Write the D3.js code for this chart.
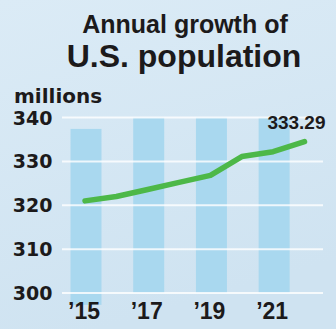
<!DOCTYPE html>
<html>
<head>
<meta charset="utf-8">
<script src="https://cdn.jsdelivr.net/npm/d3@7"></script>
<style>
  html, body { margin: 0; padding: 0; }
  body { width: 336px; height: 329px; overflow: hidden; }
  text { fill: #1c1a1b; }
</style>
</head>
<body>
<svg id="chart" width="336" height="329"></svg>
<script>
// population, millions
const years = [2015, 2016, 2017, 2018, 2019, 2020, 2021, 2022];
const population = [321.0, 322.0, 323.6, 325.2, 326.8, 331.1, 332.2, 334.5];

// the pale columns behind the line
const bandYears = [2015, 2017, 2019, 2021];
const bandTop = [337.4, 340, 340, 340];
const bandBottom = [297.3, 300, 300, 300];

const yTicks = [300, 310, 320, 330, 340];
const xTickYears = [2015, 2017, 2019, 2021];
const xTickLabels = ['’15', '’17', '’19', '’21'];
const endLabel = '333.29';

const titleLines = ['Annual growth of', 'U.S. population'];
const unitLabel = 'millions';

let svg = d3.select('#chart');

let defs = svg.append('defs');
let grad = defs.append('linearGradient')
  .attr('id', 'bg')
  .attr('x1', 0).attr('y1', 0)
  .attr('x2', 0.3).attr('y2', 1);
grad.append('stop').attr('offset', '0%').attr('stop-color', '#dbebf6');
grad.append('stop').attr('offset', '100%').attr('stop-color', '#cfe3f1');

svg.append('rect')
  .attr('width', 336)
  .attr('height', 329)
  .attr('fill', 'url(#bg)');

let x = d3.scaleLinear().domain([2015, 2022]).range([85, 304.5]);
let y = d3.scaleLinear().domain([300, 340]).range([293, 117.5]);
let barWidth = 31;

// columns
svg.append('g')
  .selectAll('rect')
  .data(bandYears)
  .join('rect')
    .attr('x', d => x(d) - barWidth / 2 + 1)
    .attr('y', (d, i) => y(bandTop[i]))
    .attr('width', barWidth)
    .attr('height', (d, i) => y(bandBottom[i]) - y(bandTop[i]))
    .attr('fill', '#a9d8ef');

// grid
svg.append('g')
  .selectAll('line')
  .data(yTicks)
  .join('line')
    .attr('x1', 62)
    .attr('x2', 323)
    .attr('y1', d => y(d))
    .attr('y2', d => y(d))
    .attr('stroke', '#ffffff')
    .attr('stroke-opacity', 0.8)
    .attr('stroke-width', 2);

// y labels
svg.append('g')
  .selectAll('text')
  .data(yTicks)
  .join('text')
    .attr('x', 52.5)
    .attr('y', d => y(d) + 7)
    .attr('text-anchor', 'end')
    .style('font', 'bold 19px "DejaVu Sans"')
    .text(d => d);

// x labels
svg.append('g')
  .selectAll('text')
  .data(xTickYears)
  .join('text')
    .attr('x', d => x(d) - 1)
    .attr('y', 319)
    .attr('text-anchor', 'middle')
    .style('font', 'bold 23px "Liberation Sans", Arial, sans-serif')
    .text((d, i) => xTickLabels[i]);

// line
let line = d3.line()
  .x((d, i) => x(years[i]))
  .y(d => y(d));

svg.append('path')
  .datum(population)
  .attr('d', line)
  .attr('fill', 'none')
  .attr('stroke', '#4db848')
  .attr('stroke-width', 5.5)
  .attr('stroke-linecap', 'round')
  .attr('stroke-linejoin', 'round');

svg.append('text')
  .attr('x', x(years[years.length - 1]) + 21)
  .attr('y', y(population[population.length - 1]) - 12.5)
  .attr('text-anchor', 'end')
  .style('font', 'bold 19px "Liberation Sans", Arial, sans-serif')
  .text(endLabel);

// titles
svg.append('text')
  .attr('x', 185)
  .attr('y', 33)
  .attr('text-anchor', 'middle')
  .style('font', 'bold 25px "Liberation Sans", Arial, sans-serif')
  .text(titleLines[0]);

svg.append('text')
  .attr('x', 184)
  .attr('y', 67)
  .attr('text-anchor', 'middle')
  .style('font', 'bold 32px "Liberation Sans", Arial, sans-serif')
  .text(titleLines[1]);

svg.append('text')
  .attr('x', 14)
  .attr('y', 103)
  .style('font', 'bold 20px "DejaVu Sans"')
  .text(unitLabel);
</script>
</body>
</html>
